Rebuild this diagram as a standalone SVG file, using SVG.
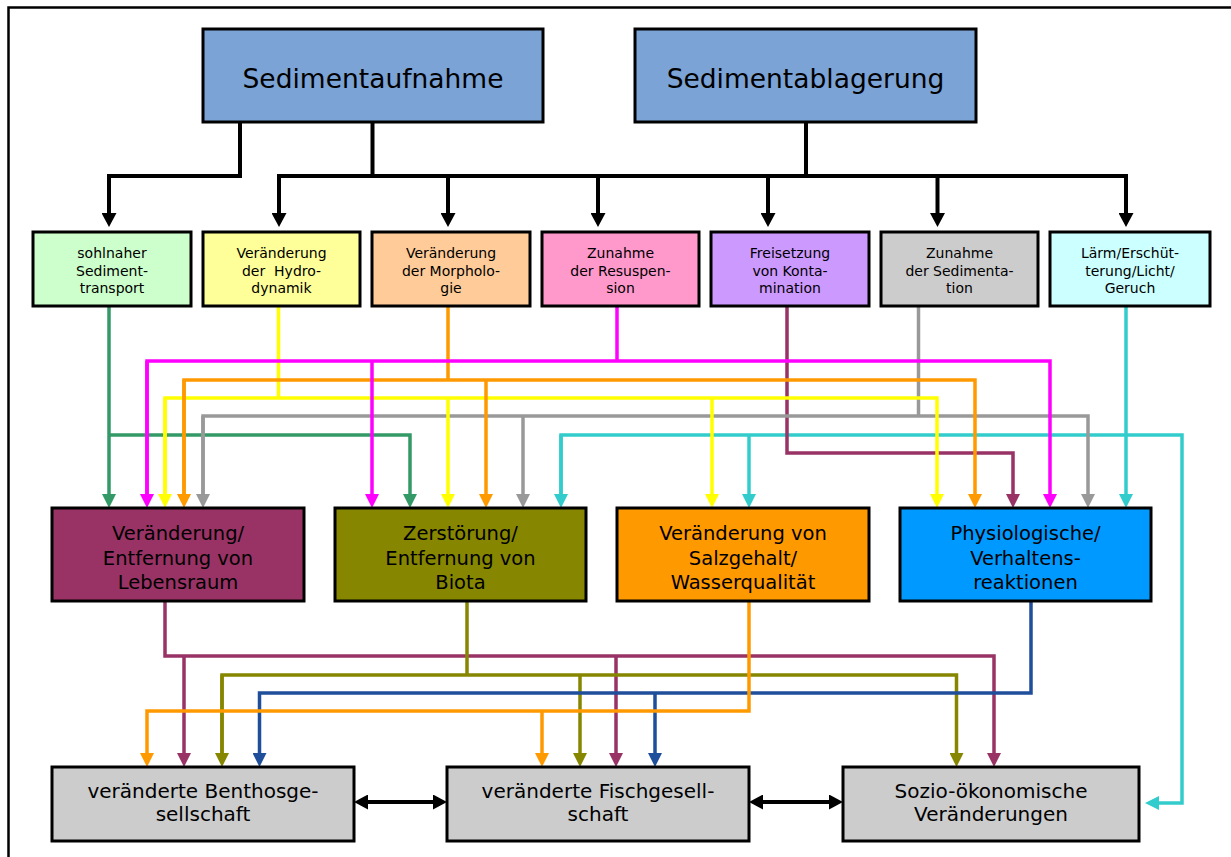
<svg xmlns="http://www.w3.org/2000/svg" width="1231" height="857" viewBox="0 0 1231 857">
<style>
.box{stroke:#000;stroke-width:3}
.t{font-family:"DejaVu Sans",Verdana,sans-serif;fill:#000;text-anchor:middle;white-space:pre}
.tl{font-size:26.5px}
.ts{font-size:14px}
.tm{font-size:19.5px}
.tb{font-size:20px}
.c{fill:none;stroke-width:3.5;stroke-linejoin:miter}
.k{fill:none;stroke:#000;stroke-width:4}
</style>
<defs>
<marker id="ak" viewBox="0 0 14 15" refX="9" refY="7.5" markerWidth="14" markerHeight="15" markerUnits="userSpaceOnUse" orient="auto-start-reverse"><path d="M0,0L14,7.5L0,15z" fill="#000"/></marker>
<marker id="ag" viewBox="0 0 14 14" refX="9" refY="7" markerWidth="14" markerHeight="14" markerUnits="userSpaceOnUse" orient="auto"><path d="M0,0L14,7L0,14z" fill="#339966"/></marker>
<marker id="am" viewBox="0 0 14 14" refX="9" refY="7" markerWidth="14" markerHeight="14" markerUnits="userSpaceOnUse" orient="auto"><path d="M0,0L14,7L0,14z" fill="#FF00FF"/></marker>
<marker id="ao" viewBox="0 0 14 14" refX="9" refY="7" markerWidth="14" markerHeight="14" markerUnits="userSpaceOnUse" orient="auto"><path d="M0,0L14,7L0,14z" fill="#FF9900"/></marker>
<marker id="ay" viewBox="0 0 14 14" refX="9" refY="7" markerWidth="14" markerHeight="14" markerUnits="userSpaceOnUse" orient="auto"><path d="M0,0L14,7L0,14z" fill="#FFFF00"/></marker>
<marker id="ar" viewBox="0 0 14 14" refX="9" refY="7" markerWidth="14" markerHeight="14" markerUnits="userSpaceOnUse" orient="auto"><path d="M0,0L14,7L0,14z" fill="#999999"/></marker>
<marker id="ac" viewBox="0 0 14 14" refX="9" refY="7" markerWidth="14" markerHeight="14" markerUnits="userSpaceOnUse" orient="auto"><path d="M0,0L14,7L0,14z" fill="#33CCCC"/></marker>
<marker id="ap" viewBox="0 0 14 14" refX="9" refY="7" markerWidth="14" markerHeight="14" markerUnits="userSpaceOnUse" orient="auto"><path d="M0,0L14,7L0,14z" fill="#993366"/></marker>
<marker id="av" viewBox="0 0 14 14" refX="9" refY="7" markerWidth="14" markerHeight="14" markerUnits="userSpaceOnUse" orient="auto"><path d="M0,0L14,7L0,14z" fill="#868600"/></marker>
<marker id="ab" viewBox="0 0 14 14" refX="9" refY="7" markerWidth="14" markerHeight="14" markerUnits="userSpaceOnUse" orient="auto"><path d="M0,0L14,7L0,14z" fill="#1F4E9B"/></marker>
</defs>
<rect x="0" y="0" width="1231" height="857" fill="#fff"/>
<rect x="8.5" y="7.5" width="1240" height="870" fill="none" stroke="#000" stroke-width="2.5"/>

<g id="connectors">
<path class="k" d="M240,122V176H109V222" marker-end="url(#ak)"/>
<path class="k" d="M372.5,122V176"/>
<path class="k" d="M806,122V176"/>
<path class="k" d="M277,176H1128"/>
<path class="k" d="M279,176V222" marker-end="url(#ak)"/>
<path class="k" d="M448,176V222" marker-end="url(#ak)"/>
<path class="k" d="M598,176V222" marker-end="url(#ak)"/>
<path class="k" d="M768,176V222" marker-end="url(#ak)"/>
<path class="k" d="M937.5,176V222" marker-end="url(#ak)"/>
<path class="k" d="M1126,176V222" marker-end="url(#ak)"/>
<g stroke="#339966" class="c">
<path d="M109,306V503" marker-end="url(#ag)"/>
<path d="M109,435H410V503" marker-end="url(#ag)"/>
</g>
<g stroke="#33CCCC" class="c">
<path d="M1126,306V503" marker-end="url(#ac)"/>
<path d="M561,503V435H1182V803H1150" marker-end="url(#ac)"/>
<path d="M561,435V503" marker-end="url(#ac)"/>
<path d="M749,435V503" marker-end="url(#ac)"/>
</g>
<g stroke="#993366" class="c">
<path d="M787,306V453H1013V503" marker-end="url(#ap)"/>
</g>
<g stroke="#999999" class="c">
<path d="M918.5,306V416"/>
<path d="M203,503V416H1088V503" marker-end="url(#ar)"/>
<path d="M203,416V503" marker-end="url(#ar)"/>
<path d="M523,416V503" marker-end="url(#ar)"/>
</g>
<g stroke="#FFFF00" class="c">
<path d="M278.5,306V398"/>
<path d="M165,503V398H937V503" marker-end="url(#ay)"/>
<path d="M165,398V503" marker-end="url(#ay)"/>
<path d="M448,398V503" marker-end="url(#ay)"/>
<path d="M712,398V503" marker-end="url(#ay)"/>
</g>
<g stroke="#FF9900" class="c">
<path d="M448,306V380"/>
<path d="M184,503V380H975V503" marker-end="url(#ao)"/>
<path d="M184,380V503" marker-end="url(#ao)"/>
<path d="M486,380V503" marker-end="url(#ao)"/>
</g>
<g stroke="#FF00FF" class="c">
<path d="M617,306V361"/>
<path d="M147,503V361H1050V503" marker-end="url(#am)"/>
<path d="M147,361V503" marker-end="url(#am)"/>
<path d="M372,361V503" marker-end="url(#am)"/>
</g>
<g stroke="#993366" class="c">
<path d="M165,601V656H994V762" marker-end="url(#ap)"/>
<path d="M184,656V762" marker-end="url(#ap)"/>
<path d="M616,656V762" marker-end="url(#ap)"/>
</g>
<g stroke="#868600" class="c">
<path d="M467,601V675"/>
<path d="M222,762V675H956.5V762" marker-end="url(#av)"/>
<path d="M222,675V762" marker-end="url(#av)"/>
<path d="M580,675V762" marker-end="url(#av)"/>
</g>
<g stroke="#1F4E9B" class="c">
<path d="M1031,601V693H259.5V762" marker-end="url(#ab)"/>
<path d="M655,693V762" marker-end="url(#ab)"/>
</g>
<g stroke="#FF9900" class="c">
<path d="M749,601V711H147V762" marker-end="url(#ao)"/>
<path d="M542,711V762" marker-end="url(#ao)"/>
</g>
<path class="k" d="M359,802H442" marker-start="url(#ak)" marker-end="url(#ak)"/>
<path class="k" d="M754,802H838" marker-start="url(#ak)" marker-end="url(#ak)"/>
</g>

<g id="n-sedimentaufnahme"><rect class="box" x="203" y="29" width="340" height="93" fill="#7BA3D6"/><text class="t tl" x="373" y="88">Sedimentaufnahme</text></g>
<g id="n-sedimentablagerung"><rect class="box" x="635" y="29" width="341" height="93" fill="#7BA3D6"/><text class="t tl" x="805.5" y="88">Sedimentablagerung</text></g>

<g id="n-sohlnaher"><rect class="box" x="33" y="232" width="158" height="74" fill="#CCFFCC"/><text class="t ts" x="112" y="258">sohlnaher</text><text class="t ts" x="112" y="276">Sediment-</text><text class="t ts" x="112" y="293">transport</text></g>
<g id="n-hydro"><rect class="box" x="203" y="232" width="157" height="74" fill="#FFFF99"/><text class="t ts" x="281.5" y="258">Veränderung</text><text class="t ts" x="281.5" y="276">der  Hydro-</text><text class="t ts" x="281.5" y="293">dynamik</text></g>
<g id="n-morph"><rect class="box" x="372" y="232" width="158" height="74" fill="#FFCC99"/><text class="t ts" x="451" y="258">Veränderung</text><text class="t ts" x="451" y="276">der Morpholo-</text><text class="t ts" x="451" y="293">gie</text></g>
<g id="n-resusp"><rect class="box" x="542" y="232" width="157" height="74" fill="#FF99CC"/><text class="t ts" x="620.5" y="258">Zunahme</text><text class="t ts" x="620.5" y="276">der Resuspen-</text><text class="t ts" x="620.5" y="293">sion</text></g>
<g id="n-freisetz"><rect class="box" x="711" y="232" width="158" height="74" fill="#CC99FF"/><text class="t ts" x="790" y="258">Freisetzung</text><text class="t ts" x="790" y="276">von Konta-</text><text class="t ts" x="790" y="293">mination</text></g>
<g id="n-sediment"><rect class="box" x="881" y="232" width="157" height="74" fill="#CCCCCC"/><text class="t ts" x="959.5" y="258">Zunahme</text><text class="t ts" x="959.5" y="276">der Sedimenta-</text><text class="t ts" x="959.5" y="293">tion</text></g>
<g id="n-laerm"><rect class="box" x="1050" y="232" width="160" height="74" fill="#CCFFFF"/><text class="t ts" x="1130" y="258">Lärm/Erschüt-</text><text class="t ts" x="1130" y="276">terung/Licht/</text><text class="t ts" x="1130" y="293">Geruch</text></g>

<g id="n-lebensraum"><rect class="box" x="52" y="508" width="252" height="93" fill="#993366"/><text class="t tm" x="178" y="540">Veränderung/</text><text class="t tm" x="178" y="565">Entfernung von</text><text class="t tm" x="178" y="589">Lebensraum</text></g>
<g id="n-biota"><rect class="box" x="335" y="508" width="251" height="93" fill="#868600"/><text class="t tm" x="460.5" y="540">Zerstörung/</text><text class="t tm" x="460.5" y="565">Entfernung von</text><text class="t tm" x="460.5" y="589">Biota</text></g>
<g id="n-salz"><rect class="box" x="617" y="508" width="252" height="93" fill="#FF9900"/><text class="t tm" x="743" y="540">Veränderung von</text><text class="t tm" x="743" y="565">Salzgehalt/</text><text class="t tm" x="743" y="589">Wasserqualität</text></g>
<g id="n-phys"><rect class="box" x="900" y="508" width="251" height="93" fill="#0099FF"/><text class="t tm" x="1025.5" y="540">Physiologische/</text><text class="t tm" x="1025.5" y="565">Verhaltens-</text><text class="t tm" x="1025.5" y="589">reaktionen</text></g>

<g id="n-benthos"><rect class="box" x="52" y="767" width="302" height="74" fill="#CCCCCC"/><text class="t tb" x="203" y="798">veränderte Benthosge-</text><text class="t tb" x="203" y="821">sellschaft</text></g>
<g id="n-fisch"><rect class="box" x="447" y="767" width="302" height="74" fill="#CCCCCC"/><text class="t tb" x="598" y="798">veränderte Fischgesell-</text><text class="t tb" x="598" y="821">schaft</text></g>
<g id="n-sozio"><rect class="box" x="843" y="767" width="296" height="74" fill="#CCCCCC"/><text class="t tb" x="991" y="798">Sozio-ökonomische</text><text class="t tb" x="991" y="821">Veränderungen</text></g>
</svg>
